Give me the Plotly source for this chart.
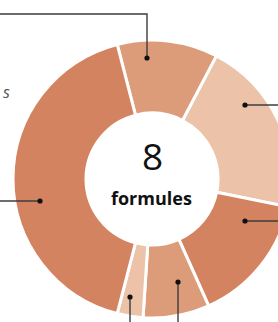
import plotly.graph_objects as go

# ---- data ----
categories = ["Formule A", "Formule B", "Formule C", "Formule D", "Formule E", "Formule F"]
values = [11.7, 20.5, 15.1, 7.7, 3.0, 41.9]
colors = ["#dd9c79", "#ecc3a9", "#d48361", "#dd9c79", "#ecc3a9", "#d48361"]
center_number = "8"
center_label = "formules"
side_text = "s"

# ---- layout constants (pixels) ----
W, H = 304, 322
CX, CY, R = 152, 179, 139


def px(x):
    return x / W


def py(y):
    return 1 - y / H


fig = go.Figure()
fig.add_trace(go.Pie(
    labels=categories,
    values=values,
    sort=False,
    direction="clockwise",
    rotation=-14.5,
    hole=0.475,
    marker=dict(colors=colors, line=dict(color="white", width=3)),
    textinfo="none",
    hoverinfo="label+percent",
    showlegend=False,
    domain=dict(x=[0, 1], y=[py(CY + R), py(CY - R)]),
))

# callout leader lines (pixel paths) and anchor dots
callouts = [
    [(0, 14), (147, 14), (147, 58)],
    [(245, 105), (W, 105)],
    [(245, 221), (W, 221)],
    [(178, 282), (178, H)],
    [(130, 297), (130, H)],
    [(40, 201), (0, 201)],
]
dots = [(147, 58), (245, 105), (245, 221), (178, 282), (130, 297), (40, 201)]

shapes = []
for pts in callouts:
    path = "M " + " L ".join(f"{px(x)},{py(y)}" for x, y in pts)
    shapes.append(dict(type="path", path=path, xref="paper", yref="paper",
                       line=dict(color="#3c3c3c", width=1.4)))
for x, y in dots:
    r = 2.6
    shapes.append(dict(type="circle", xref="paper", yref="paper",
                       x0=px(x - r), x1=px(x + r), y0=py(y + r), y1=py(y - r),
                       fillcolor="#111111", line=dict(width=0)))

annotations = [
    dict(text=center_number, x=px(152), y=py(155), xref="paper", yref="paper",
         showarrow=False, font=dict(family="Open Sans", size=37, color="#111111"),
         xanchor="center", yanchor="middle"),
    dict(text=f"<b>{center_label}</b>", x=px(151), y=py(198), xref="paper", yref="paper",
         showarrow=False, font=dict(family="Open Sans", size=18, color="#111111"),
         xanchor="center", yanchor="middle"),
    dict(text=f"<i>{side_text}</i>", x=px(1), y=py(92), xref="paper", yref="paper",
         showarrow=False, font=dict(family="Open Sans", size=16, color="#555555"),
         xanchor="left", yanchor="middle"),
]

fig.update_layout(
    width=W, height=H,
    margin=dict(l=0, r=0, t=0, b=0),
    paper_bgcolor="white",
    plot_bgcolor="white",
    shapes=shapes,
    annotations=annotations,
)

fig.write_html("out.html", config={"displayModeBar": False}, post_script=(
    "document.body.style.margin='0';"
    "document.body.style.overflow='hidden';"
    "document.documentElement.style.overflow='hidden';"
))
